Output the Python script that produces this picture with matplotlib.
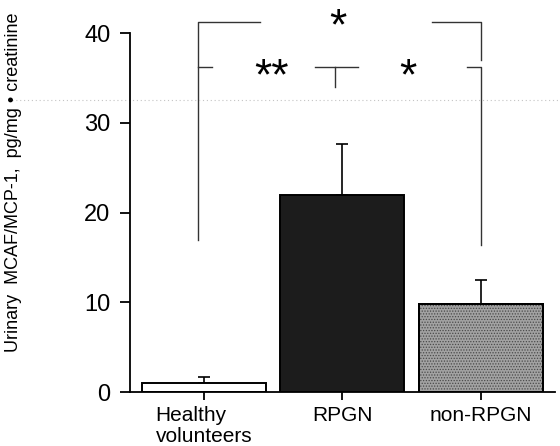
import matplotlib.pyplot as plt
from matplotlib.transforms import ScaledTranslation

plt.rcParams["font.family"] = ["Liberation Sans", "DejaVu Sans"]
plt.rcParams["hatch.linewidth"] = 0.6


# DATOS

grupos = ["Healthy\nvolunteers", "RPGN", "non-RPGN"]
medias = [1.0, 22.0, 9.8]
errores = [0.7, 5.6, 2.7]
colores = ["white", "#1c1c1c", "#a2a2a2"]

# corchetes de significancia (x en posiciones de grupo, y en unidades del eje)
estrellas = ["*", "**", "*"]
estrellas_x = [0.97, 0.49, 1.47]
estrellas_y = [39.3, 33.7, 33.7]


# FIGURA

fig = plt.figure(figsize=(5.6, 4.46), dpi=100)
ax = fig.add_axes([0.232, 0.121, 0.759, 0.805])

posiciones = range(len(grupos))

ax.bar(
    posiciones,
    medias,
    width=0.895,
    color=colores,
    edgecolor="black",
    linewidth=1.4,
    zorder=2
)

# textura punteada de la barra non-RPGN
ax.bar(
    [2],
    [medias[2]],
    width=0.895,
    color="none",
    edgecolor="#4a4a4a",
    hatch="......",
    linewidth=0,
    zorder=3
)
ax.bar(
    [2],
    [medias[2]],
    width=0.895,
    fill=False,
    edgecolor="black",
    linewidth=1.4,
    zorder=4
)

ax.errorbar(
    posiciones,
    medias,
    yerr=[[0, 0, 0], errores],
    fmt="none",
    ecolor="black",
    elinewidth=1.2,
    capsize=4,
    capthick=1.2,
    zorder=1
)


# CORCHETES

estilo = dict(color="#333333", lw=1.0, clip_on=False)

ax.plot([-0.043, -0.043, 0.404], [16.9, 41.2, 41.2], **estilo)
ax.plot([1.646, 2.0, 2.0], [41.2, 41.2, 37.0], **estilo)

ax.plot([-0.043, 0.058], [36.2, 36.2], **estilo)
ax.plot([0.80, 1.11], [36.2, 36.2], **estilo)
ax.plot([0.946, 0.946], [36.2, 34.0], **estilo)
ax.plot([1.90, 2.0, 2.0], [36.2, 36.2, 16.4], **estilo)

for texto, x, y in zip(estrellas, estrellas_x, estrellas_y):
    ax.text(
        x, y, texto,
        ha="center",
        va="baseline",
        fontsize=32,
        clip_on=False
    )

# línea punteada tenue del escaneo original
ax.plot(
    [-0.287, 1.01],
    [32.5, 32.5],
    transform=ax.get_yaxis_transform(),
    color="#c4c4c4",
    lw=0.8,
    ls=(0, (1, 2.5)),
    clip_on=False
)


# EJES

ax.set_xlim(-0.534, 2.534)
ax.set_ylim(0, 40)
ax.set_yticks([0, 10, 20, 30, 40])
ax.set_xticks(list(posiciones))
ax.set_xticklabels(grupos, fontsize=15, linespacing=1.12)

desplazamiento = ScaledTranslation(-5 / 100, 0, fig.dpi_scale_trans)
for label in ax.get_xticklabels():
    label.set_verticalalignment("top")
    label.set_multialignment("left")
ax.get_xticklabels()[0].set_transform(
    ax.get_xticklabels()[0].get_transform() + desplazamiento
)

ax.tick_params(axis="y", labelsize=17, length=7, width=1.3, pad=7)
ax.tick_params(axis="x", length=6, width=1.3, pad=4)

ax.spines["top"].set_visible(False)
ax.spines["right"].set_visible(False)
ax.spines["left"].set_linewidth(1.3)
ax.spines["bottom"].set_linewidth(1.3)

fig.text(
    0.025, 0.592,
    "Urinary  MCAF/MCP-1,  pg/mg \u2022 creatinine",
    rotation=90,
    ha="center",
    va="center",
    fontsize=13
)

fig.savefig("out.png", dpi=100)
